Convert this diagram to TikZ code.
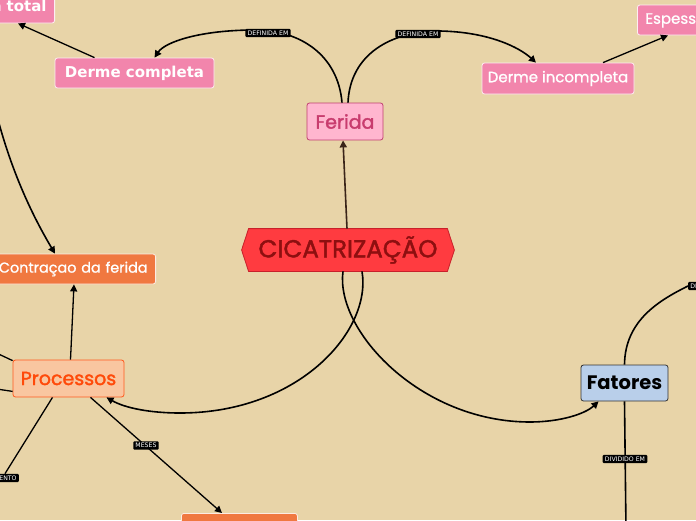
\documentclass[tikz,border=0pt]{standalone}
\usepackage{fontspec}
\setmainfont{Poppins}
\newfontfamily\pmed{Poppins}[FakeBold=1.0]
\newfontfamily\psemi{Poppins}[FakeBold=1.8]
\newfontfamily\dvs{DejaVu Sans}
\usetikzlibrary{arrows.meta}
\definecolor{bg}{HTML}{E8D4A8}
\definecolor{pinkA}{HTML}{F285AC}
\definecolor{pinkB}{HTML}{FFB6CF}
\definecolor{pinkBd}{HTML}{C04070}
\definecolor{pinkBt}{HTML}{C83C6E}
\definecolor{redA}{HTML}{FF3B40}
\definecolor{redBd}{HTML}{C8202A}
\definecolor{redT}{HTML}{8E0F10}
\definecolor{orA}{HTML}{F07840}
\definecolor{orB}{HTML}{F9C6A0}
\definecolor{orBd}{HTML}{FF5A1E}
\definecolor{orT}{HTML}{FF4A0A}
\definecolor{blA}{HTML}{B9CFEA}
\definecolor{brn}{HTML}{3A2418}
\tikzset{
  box/.style={rounded corners=2.5pt, inner sep=0pt, line width=0.8pt, align=center},
  pinkbox/.style={box, fill=pinkA, draw=white!85!pinkA, text=white},
  orbox/.style={box, fill=orA, draw=white!85!orA, text=white},
  lbl/.style={fill=black, rounded corners=1pt, text=white, inner xsep=2.2pt, inner ysep=1.8pt, font=\dvs\fontsize{6.2}{7}\selectfont},
  conn/.style={line width=1.6pt, black},
  thin/.style={line width=1.3pt, black},
  tip/.style={-{Triangle[length=7pt,width=7pt]}}
}
\begin{document}
\begin{tikzpicture}[x=1pt,y=-1pt]
\fill[bg] (0,0) rectangle (696,520);
\useasboundingbox (0,0) rectangle (696,520);

% nodes
\node[pinkbox, anchor=east, text width=161pt, align=right, minimum height=31pt, font=\dvs\bfseries\fontsize{15}{18}\selectfont] (tot) at (55,7.5) {Espessura total\hspace*{8pt}};
\node[pinkbox, minimum width=159pt, minimum height=30pt, font=\dvs\bfseries\fontsize{15}{18}\selectfont] (dc) at (134.5,73) {Derme completa};
\node[pinkbox, minimum width=152pt, minimum height=31pt, font=\pmed\fontsize{15}{18}\selectfont] (di) at (558,78.5) {Derme incompleta};
\node[pinkbox, anchor=west, text width=160pt, align=left, minimum height=30pt, font=\pmed\fontsize{15}{18}\selectfont] (esp) at (637,20) {\hspace*{8pt}Espessura parcial};
\node[box, fill=pinkB, draw=pinkBd, text=pinkBt, minimum width=76pt, minimum height=37pt, font=\psemi\fontsize{19}{22}\selectfont] (fer) at (345,121.5) {Ferida};
\node[box, minimum width=212pt, minimum height=42pt] (cic) at (348,250) {};
\node[orbox, anchor=east, text width=175pt, align=right, minimum height=30pt, font=\pmed\fontsize{14.4}{18}\selectfont] (con) at (156,269) {Contraçao da ferida\hspace*{8pt}};
\node[box, fill=orB, draw=orBd, text=orT, minimum width=111pt, minimum height=37pt, font=\psemi\fontsize{19}{22}\selectfont] (pro) at (68.5,378.5) {Processos};
\node[box, fill=blA, draw=black!80, text=black, minimum width=87pt, minimum height=36pt, font=\bfseries\fontsize{19.5}{22}\selectfont] (fat) at (624.5,383) {Fatores};
\node[orbox, anchor=north west, minimum width=116pt, minimum height=30pt] (bot) at (181,513) {};

% hexagon for CICATRIZACAO
\path[fill=redA, draw=redBd, line width=0.8pt]
  ([xshift=7pt]cic.north west) -- ([xshift=-7pt]cic.north east) -- (cic.east)
  -- ([xshift=-7pt]cic.south east) -- ([xshift=7pt]cic.south west) -- (cic.west) -- cycle;
\node[text=redT, font=\psemi\fontsize{24.5}{28}\selectfont] (cict) at (cic) {CICATRIZAÇÃO};

\coordinate (tl) at (-4,112);
\coordinate (pl1) at (-10,350);
\coordinate (pl2) at (-10,388);
\coordinate (fb) at (626,530);

% connectors
\draw[conn, tip] ([xshift=-3pt]fer.north) .. controls (338,55) and (300,30) .. (255,30)
   .. controls (200,30) and (165,42) .. ([xshift=20pt]dc.north);
\draw[conn, tip] ([xshift=3pt]fer.north) .. controls (350,55) and (390,31) .. (440,31)
   .. controls (490,32) and (520,48) .. ([xshift=-22pt]di.north);
\node[lbl] (l1) at (268,33) {DEFINIDA EM};
\node[lbl] (l2) at (418,34) {DEFINIDA EM};

\draw[thin, tip] ([xshift=-40pt]dc.north) -- ([xshift=-37pt]tot.south east);
\draw[thin, tip] ([xshift=45pt]di.north) -- ([xshift=31pt]esp.south west);
\draw[line width=1.6pt, brn, tip] ([xshift=-1pt]cic.north) -- ([xshift=-2pt]fer.south);

\draw[conn, tip] ([xshift=14pt]cic.south) .. controls (372,330) and (300,413) .. (180,413)
   .. controls (150,413) and (125,408) .. ([xshift=38pt]pro.south);
\draw[conn, tip] ([xshift=-5pt]cic.south) .. controls (335,330) and (420,422) .. (530,422)
   .. controls (560,422) and (585,414) .. ([xshift=-26pt]fat.south);

\draw[thin, tip] ([xshift=2pt]pro.north) -- ([xshift=-82pt]con.south east);
\draw[conn, tip] (tl) .. controls (12,175) and (35,220) .. ([xshift=-101pt]con.north east);
\draw[thin] ([yshift=-1pt]pro.north west) -- (pl1);
\draw[thin] ([yshift=6pt]pro.south west) -- (pl2);
\node[lbl, anchor=east] (l4) at (19,478) {MOMENTO};
\draw[thin] ([xshift=-16pt]pro.south) -- ([xshift=-14pt]l4.north east);
\draw[thin, tip] ([xshift=22pt]pro.south) -- ([xshift=41pt]bot.north west);
\node[lbl] (l3) at (146,445.5) {MESES};

\node[lbl, anchor=west] (l6) at (688,286) {DIVIDIDO EM};
\draw[conn] (fat.north) .. controls (625,320) and (660,300) .. (l6.west);
\draw[conn] (fat.south) -- (fb);
\node[lbl] (l5) at (625,459) {DIVIDIDO EM};
\end{tikzpicture}
\end{document}
